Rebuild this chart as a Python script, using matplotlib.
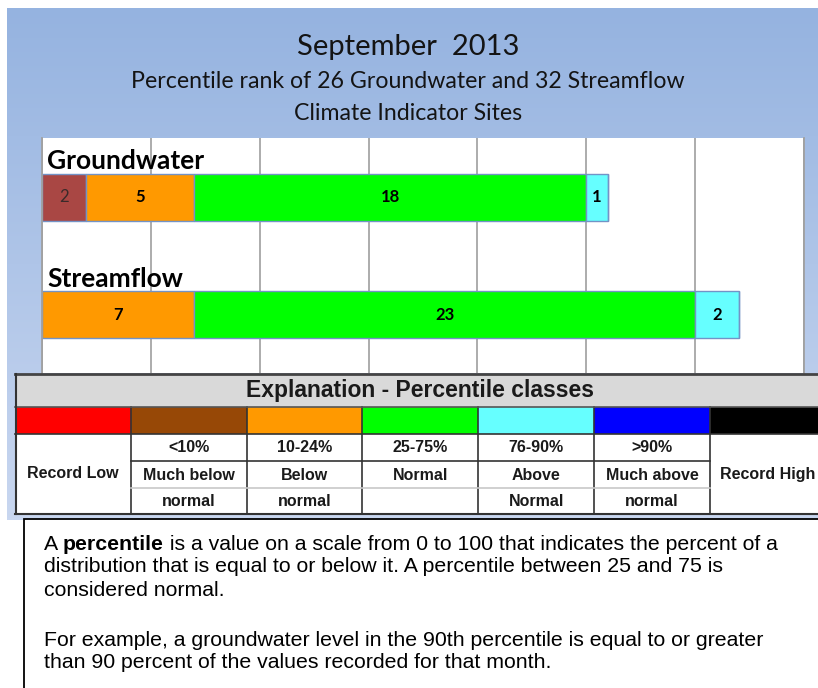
"""September 2013 percentile-class chart for groundwater and streamflow sites."""
import matplotlib
matplotlib.use("Agg")
import matplotlib.pyplot as plt
import numpy as np
from matplotlib.patches import Rectangle

W, H = 818, 688

# --- data -------------------------------------------------------------
SITES = ["Groundwater", "Streamflow"]
CLASSES = ["Much below normal", "Below normal", "Normal", "Above normal", "Much above normal"]
GROUNDWATER = [2, 5, 18, 1, 0]
STREAMFLOW = [0, 7, 23, 2, 0]
BAR_COLORS = ["#a94744", "#ff9900", "#00ff00", "#66ffff", "#0000ff"]
X_TICKS = [0, 5, 10, 15, 20, 25, 30, 35]

KEY_COLORS = ["#ff0000", "#974806", "#ff9900", "#00ff00", "#66ffff", "#0000ff", "#000000"]
KEY_RANGES = ["", "<10%", "10-24%", "25-75%", "76-90%", ">90%", ""]
KEY_LINE1 = ["Record Low", "Much below", "Below", "Normal", "Above", "Much above", "Record High"]
KEY_LINE2 = ["", "normal", "normal", "", "Normal", "normal", ""]

TITLE = "September  2013"
SUBTITLE = ["Percentile rank of 26 Groundwater and 32 Streamflow", "Climate Indicator Sites"]
NOTE_1 = ["distribution that is equal to or below it. A percentile between 25 and 75 is",
          "considered normal."]
NOTE_2 = ["For example, a groundwater level in the 90th percentile is equal to or greater",
          "than 90 percent of the values recorded for that month."]

TITLE_FONT = ["Lato", "DejaVu Sans"]
ARIAL = ["Liberation Sans", "DejaVu Sans"]

fig = plt.figure(figsize=(W / 100, H / 100), dpi=100)

# --- slide background ---------------------------------------------------
bg = fig.add_axes([0, 0, 1, 1])
bg.set_xlim(0, W)
bg.set_ylim(H, 0)
bg.axis("off")
top = np.array(matplotlib.colors.to_rgb("#95b3e0"))
bot = np.array(matplotlib.colors.to_rgb("#c9d7f0"))
t = np.linspace(0, 1, 256)[:, None]
grad = (top * (1 - t) + bot * t)[:, None, :]
bg.imshow(grad, extent=(7, W, 520, 8), aspect="auto", zorder=0)

bg.text(408, 47, TITLE, ha="center", va="center", fontsize=21, family=TITLE_FONT,
        color="#141414")
bg.text(408, 82, SUBTITLE[0], ha="center", va="center", fontsize=16.7, family=TITLE_FONT,
        color="#141414")
bg.text(408, 113, SUBTITLE[1], ha="center", va="center", fontsize=16.7, family=TITLE_FONT,
        color="#141414")

# --- bar chart ----------------------------------------------------------
ax = fig.add_axes([42 / W, 1 - 373 / H, 762 / W, 235 / H], zorder=1)
ax.set_facecolor("white")
ax.set_xlim(0, 35)
ax.set_ylim(1.494, -0.506)
ax.set_xticks(X_TICKS)
ax.tick_params(length=0, labelbottom=False, labelleft=False)
ax.set_yticks([])
ax.grid(axis="x", color="#a6a6a6", linewidth=1.3)
ax.set_axisbelow(True)
for side in ["top", "bottom"]:
    ax.spines[side].set_visible(False)
for side in ["left", "right"]:
    ax.spines[side].set_color("#a0a0a0")
    ax.spines[side].set_linewidth(1.3)

ypos = np.arange(len(SITES))
counts = np.array([GROUNDWATER, STREAMFLOW])
left = np.zeros(len(SITES))
for i, cls in enumerate(CLASSES):
    vals = counts[:, i]
    bars = ax.barh(ypos, vals, left=left, height=0.4, color=BAR_COLORS[i],
                   edgecolor="#7393c6", linewidth=1, label=cls)
    labels = [str(v) if v > 0 else "" for v in vals]
    weight = "normal" if i == 0 else "bold"
    color = "#3a2a2a" if i == 0 else "black"
    ax.bar_label(bars, labels=labels, label_type="center", fontsize=12,
                 fontweight=weight, color=color, family=TITLE_FONT)
    left += vals

for y, name in zip(ypos, SITES):
    ax.text(0.25, y - 0.31, name, ha="left", va="center", fontsize=19,
            fontweight="bold", family=TITLE_FONT)

# --- explanation table --------------------------------------------------
ov = fig.add_axes([0, 0, 1, 1], zorder=2)
ov.set_xlim(0, W)
ov.set_ylim(H, 0)
ov.axis("off")
ov.patch.set_alpha(0)

x0, col_w = 15, 115.8
ov.add_patch(Rectangle((x0, 374), W - x0 + 5, 140, facecolor="white", edgecolor="none"))
ov.add_patch(Rectangle((x0, 374), W - x0 + 5, 33, facecolor="#d9d9d9", edgecolor="none"))
ov.text(420, 391, "Explanation - Percentile classes", ha="center", va="center",
        fontsize=16.5, fontweight="bold", family=ARIAL, color="#1a1a1a")

cell_fs = 11.5
for j, c in enumerate(KEY_COLORS):
    xl = x0 + j * col_w
    xc = xl + col_w / 2
    ov.add_patch(Rectangle((xl, 407), col_w, 27, facecolor=c, edgecolor="none"))
    if KEY_RANGES[j]:
        ov.text(xc, 448, KEY_RANGES[j], ha="center", va="center", fontsize=cell_fs,
                fontweight="bold", family=ARIAL, color="#1a1a1a")
        ov.text(xc, 475, KEY_LINE1[j], ha="center", va="center", fontsize=cell_fs,
                fontweight="bold", family=ARIAL, color="#1a1a1a")
        ov.text(xc, 502, KEY_LINE2[j], ha="center", va="center", fontsize=cell_fs,
                fontweight="bold", family=ARIAL, color="#1a1a1a")
    else:
        ov.text(xc, 474, KEY_LINE1[j], ha="center", va="center", fontsize=cell_fs,
                fontweight="bold", family=ARIAL, color="#1a1a1a")
    if j > 0:
        ov.plot([xl, xl], [407, 514], color="#333333", lw=1.2)

inner = [x0 + col_w, x0 + 6 * col_w]
ov.plot([x0, W], [407, 407], color="#555555", lw=1.2)
ov.plot([x0, W], [434, 434], color="#333333", lw=1.2)
ov.plot(inner, [461, 461], color="#333333", lw=1.2)
ov.plot(inner, [488, 488], color="#c8c8c8", lw=1.2)
ov.plot([x0, W], [374, 374], color="#444444", lw=2)
ov.plot([x0, W], [514, 514], color="#333333", lw=1.5)
ov.plot([x0 + 0.5, x0 + 0.5], [374, 514], color="#333333", lw=1.5)

# --- note box -----------------------------------------------------------
ov.add_patch(Rectangle((24, 519), W, 200, facecolor="white", edgecolor="black", lw=1.3))
fs = 15.3
t1 = ov.text(44, 545, "A ", ha="left", va="center", fontsize=fs, family=ARIAL)
t2 = ov.annotate("percentile", xy=(1, 0), xycoords=t1, ha="left", va="bottom",
                 fontsize=fs, fontweight="bold", family=ARIAL)
ov.annotate(" is a value on a scale from 0 to 100 that indicates the percent of a",
            xy=(1, 0), xycoords=t2, ha="left", va="bottom", fontsize=fs, family=ARIAL)
for y, line in zip([567, 590], NOTE_1):
    ov.text(44, y, line, ha="left", va="center", fontsize=fs, family=ARIAL)
for y, line in zip([640, 662], NOTE_2):
    ov.text(44, y, line, ha="left", va="center", fontsize=fs, family=ARIAL)

fig.savefig("out.png", dpi=100)
